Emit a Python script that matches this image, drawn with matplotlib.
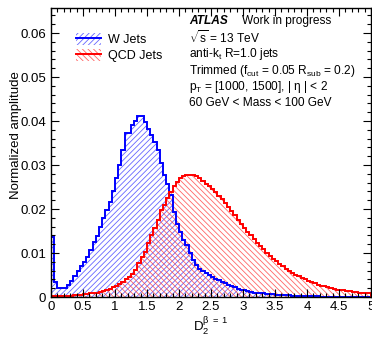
import numpy as np
import matplotlib
matplotlib.use("Agg")
import matplotlib.pyplot as plt
from matplotlib.patches import Patch
from matplotlib.lines import Line2D
from matplotlib.ticker import MultipleLocator

plt.rcParams['font.family'] = ['Liberation Sans', 'DejaVu Sans']
plt.rcParams['mathtext.fontset'] = 'custom'
plt.rcParams['mathtext.rm'] = 'Liberation Sans'
plt.rcParams['mathtext.it'] = 'Liberation Sans'
plt.rcParams['mathtext.bf'] = 'Liberation Sans:bold'
plt.rcParams['hatch.linewidth'] = 0.6

# histogram binning: 100 bins of 0.05 on [0, 5]
bin_edges = np.linspace(0, 5, 101)

# W jets (normalised)
w_jets = [0.0137, 0.0035, 0.0020, 0.0020, 0.0020, 0.0027, 0.0037, 0.0048, 0.0059, 0.0070,
          0.0080, 0.0092, 0.0107, 0.0124, 0.0139, 0.0158, 0.0179, 0.0198, 0.0217, 0.0240,
          0.0270, 0.0300, 0.0334, 0.0372, 0.0372, 0.0390, 0.0400, 0.0412, 0.0412, 0.0398,
          0.0383, 0.0368, 0.0353, 0.0334, 0.0304, 0.0277, 0.0258, 0.0232, 0.0194, 0.0167,
          0.0148, 0.0130, 0.0118, 0.0099, 0.0084, 0.0073, 0.0064, 0.0058, 0.0054, 0.0049,
          0.0045, 0.0041, 0.0038, 0.0035, 0.0031, 0.0028, 0.0025, 0.0022, 0.0019, 0.0017,
          0.0015, 0.0013, 0.0012, 0.0010, 0.0009, 0.0008, 0.0008, 0.0007, 0.0006, 0.0006,
          0.0005, 0.0005, 0.0004, 0.0004, 0.0004, 0.0003, 0.0003, 0.0003, 0.0002, 0.0002,
          0.0002, 0.0002, 0.0002, 0.0002, 0.0001, 0.0001, 0.0001, 0.0001, 0.0001, 0.0001,
          0.0001, 0.0001, 0.0001, 0.0001, 0.0001, 0.0001, 0.0001, 0.0001, 0.0001, 0.0001]

# QCD jets (normalised)
qcd_jets = [0.0002, 0.0002, 0.0002, 0.0002, 0.0003, 0.0003, 0.0003, 0.0004, 0.0004, 0.0005,
            0.0006, 0.0007, 0.0008, 0.0009, 0.0010, 0.0012, 0.0014, 0.0016, 0.0019, 0.0022,
            0.0025, 0.0029, 0.0034, 0.0040, 0.0046, 0.0053, 0.0061, 0.0077, 0.0092, 0.0103,
            0.0122, 0.0141, 0.0156, 0.0175, 0.0198, 0.0209, 0.0224, 0.0239, 0.0252, 0.0262,
            0.0270, 0.0275, 0.0277, 0.0277, 0.0278, 0.0274, 0.0270, 0.0264, 0.0258, 0.0252,
            0.0245, 0.0238, 0.0230, 0.0222, 0.0213, 0.0204, 0.0196, 0.0186, 0.0176, 0.0166,
            0.0157, 0.0148, 0.0140, 0.0131, 0.0123, 0.0115, 0.0108, 0.0100, 0.0094, 0.0087,
            0.0081, 0.0075, 0.0070, 0.0064, 0.0060, 0.0055, 0.0051, 0.0047, 0.0043, 0.0040,
            0.0037, 0.0034, 0.0031, 0.0028, 0.0026, 0.0024, 0.0022, 0.0020, 0.0018, 0.0017,
            0.0016, 0.0015, 0.0014, 0.0013, 0.0012, 0.0011, 0.0010, 0.0009, 0.0008, 0.0008]

labels = ["W Jets", "QCD Jets"]
info_lines = [r"$\sqrt{s}$ = 13 TeV",
              r"anti-k$_{\rm t}$ R=1.0 jets",
              r"Trimmed (f$_{\rm cut}$ = 0.05 R$_{\rm sub}$ = 0.2)",
              r"p$_{\rm T}$ = [1000, 1500], | η | < 2",
              "60 GeV < Mass < 100 GeV"]

W, H = 372, 338
fig = plt.figure(figsize=(W / 100, H / 100), dpi=100)
ax = fig.add_axes([51 / W, 1 - 297 / H, 320 / W, 289 / H])

blue = (0, 0, 1)
red = (1, 0, 0)
blue_h = (0.2, 0.2, 1, 0.75)
red_h = (1, 0.2, 0.2, 0.75)
hatch_w = '//////'
hatch_q = '\\\\\\\\\\\\'

# hatched fills
ax.stairs(w_jets, bin_edges, fill=True, hatch=hatch_w, facecolor='none',
          edgecolor=blue_h, linewidth=0)
ax.stairs(qcd_jets, bin_edges, fill=True, hatch=hatch_q, facecolor='none',
          edgecolor=red_h, linewidth=0)
# outlines
ax.stairs(w_jets, bin_edges, color=blue, linewidth=1.4)
ax.stairs(qcd_jets, bin_edges, color=red, linewidth=1.4)

ax.set_xlim(0, 5)
ax.set_ylim(0, 0.0657)
ax.xaxis.set_minor_locator(MultipleLocator(0.1))
ax.yaxis.set_minor_locator(MultipleLocator(0.002))
ax.set_xticks(np.arange(0, 5.01, 0.5))
ax.set_xticklabels(["0", "0.5", "1", "1.5", "2", "2.5", "3", "3.5", "4", "4.5", "5"])
ax.set_yticks(np.arange(0, 0.061, 0.01))
ax.set_yticklabels(["0", "0.01", "0.02", "0.03", "0.04", "0.05", "0.06"])
ax.tick_params(which='both', direction='in', top=True, right=True, labelsize=9.5, width=0.8)
ax.tick_params(which='major', length=6)
ax.tick_params(which='minor', length=3)
ax.tick_params(axis='x', pad=3)
for sp in ax.spines.values():
    sp.set_linewidth(1.0)

fig.text(16 / W, 1 - 135 / H, "Normalized amplitude", rotation=90,
         ha='center', va='center', fontsize=9.5)
fig.text(211 / W, 1 - 326 / H, r"D$_{2}^{\beta\ =\ 1}$", ha='center', va='center', fontsize=9.5)

# legend
handles = [(Patch(facecolor='none', edgecolor=blue_h, hatch=hatch_w, linewidth=0),
            Line2D([], [], color=blue, linewidth=1.4)),
           (Patch(facecolor='none', edgecolor=red_h, hatch=hatch_q, linewidth=0),
            Line2D([], [], color=red, linewidth=1.4))]
fig.legend(handles, labels, loc='upper left', bbox_to_anchor=(76 / W, 1 - 33 / H),
           frameon=False, fontsize=9, handlelength=2.0, handleheight=1.1,
           handletextpad=0.6, labelspacing=0.2, borderpad=0, borderaxespad=0)

# ATLAS label and info text
fig.text(189 / W, 1 - 21 / H, "ATLAS", fontsize=8.6, fontweight='bold', fontstyle='italic',
         va='center', ha='left')
fig.text(242 / W, 1 - 21 / H, "Work in progress", fontsize=8.6, va='center', ha='left')
ys = [38, 54, 71, 87, 103]
for txt, yy in zip(info_lines, ys):
    fig.text(189 / W, 1 - yy / H, txt, fontsize=8.6, va='center', ha='left')

fig.savefig("out.png", dpi=100)
